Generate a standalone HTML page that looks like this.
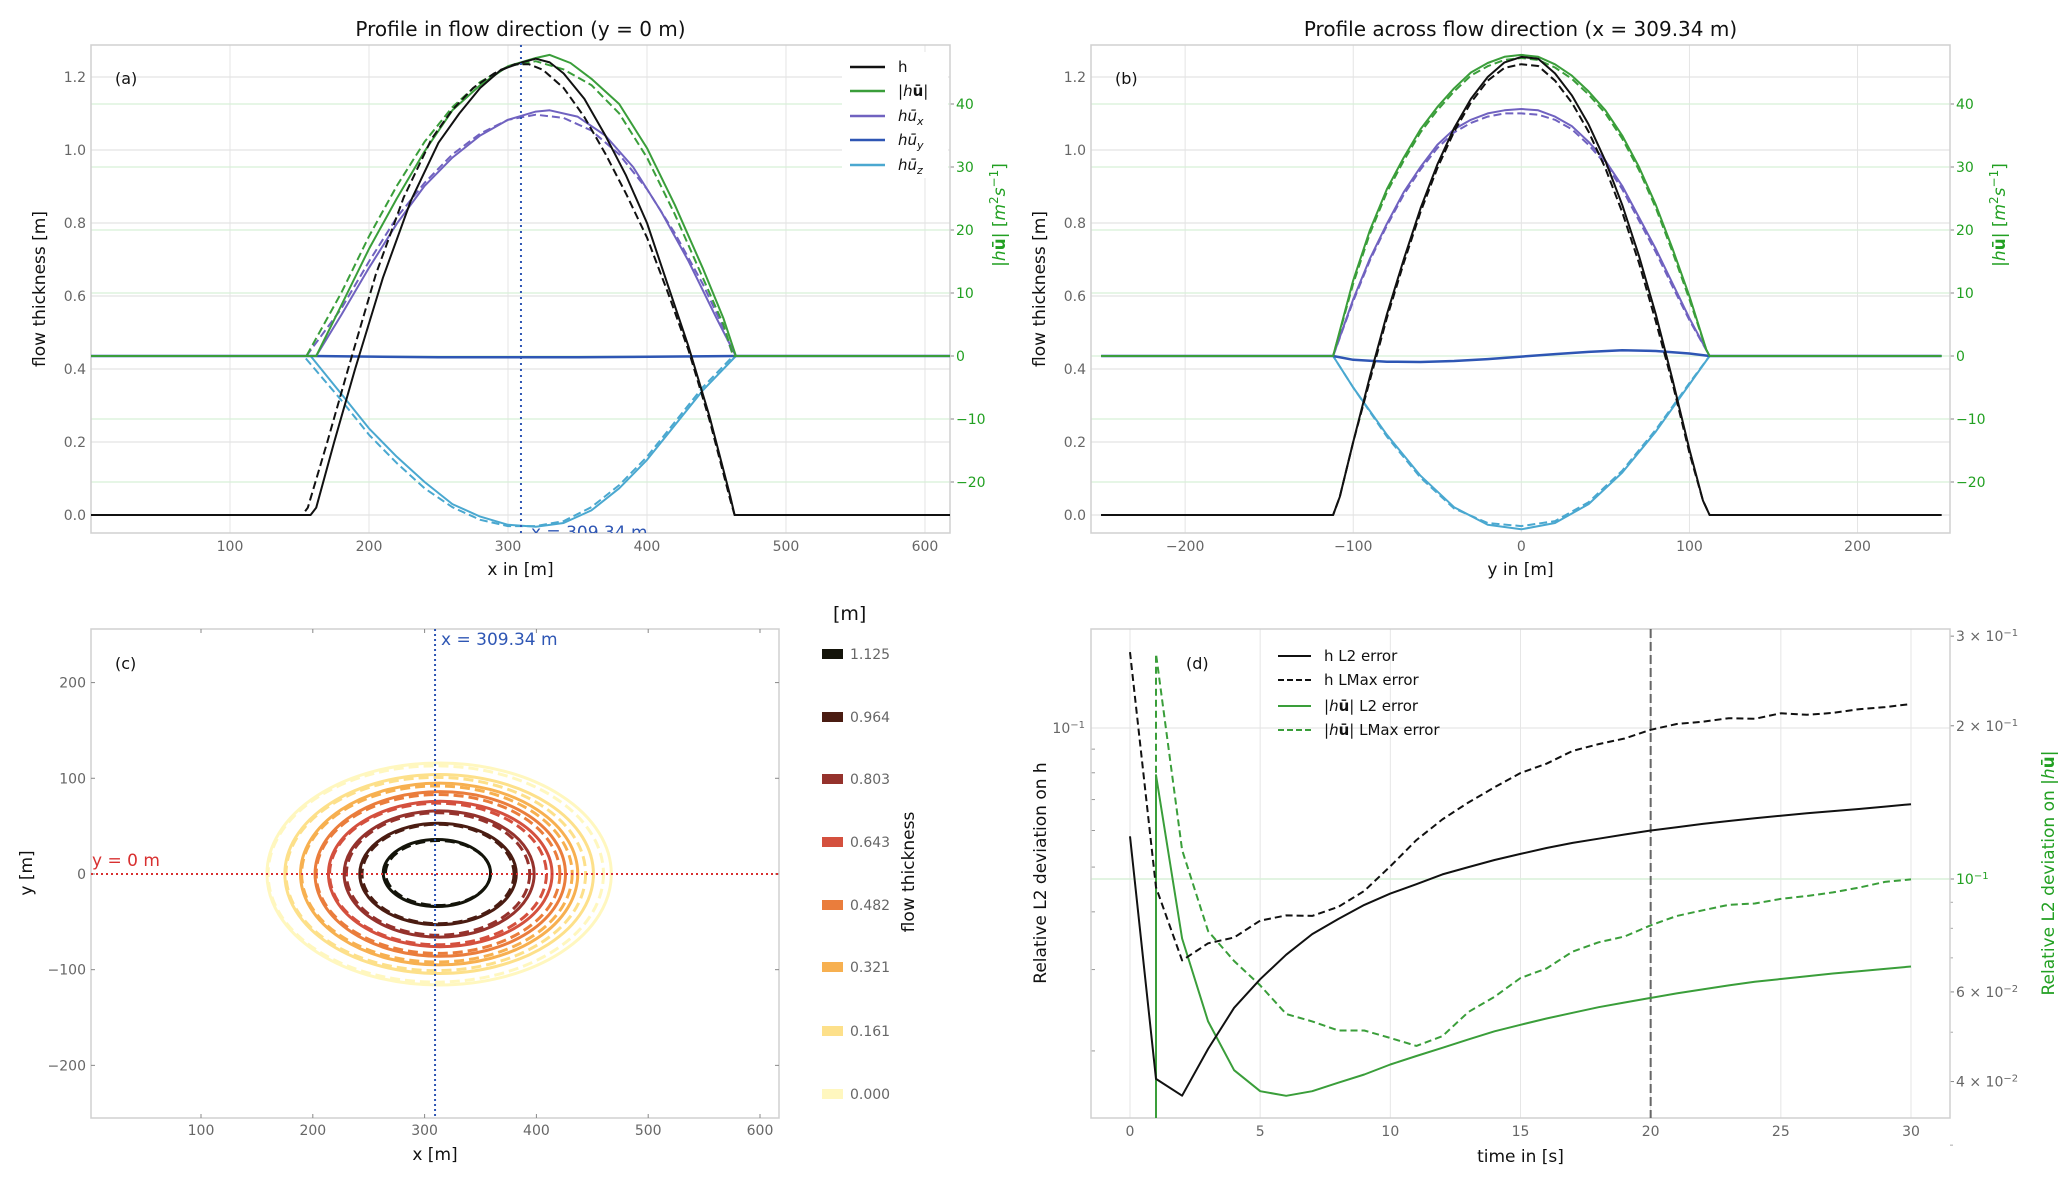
<!DOCTYPE html>
<html><head><meta charset="utf-8"><style>
html,body{margin:0;padding:0;background:#fff;}
svg{display:block;}
.tk{font-family:"DejaVu Sans","Liberation Sans",sans-serif;font-size:14px;fill:#666;}
.tkg{font-family:"DejaVu Sans","Liberation Sans",sans-serif;font-size:14px;fill:#22a022;}
.lab{font-family:"DejaVu Sans","Liberation Sans",sans-serif;font-size:17px;fill:#111;}
.ttl{font-family:"DejaVu Sans","Liberation Sans",sans-serif;font-size:20px;fill:#111;}
</style></head><body>
<svg id="chart" width="2067" height="1180" viewBox="0 0 2067 1180"></svg>
<script>
// ---------- Panel (a) data: profile in flow direction ----------
const aHx=[0,158,162,175,190,210,230,250,265,280,295,310,320,330,340,355,370,385,400,415,430,445,460,463,618];
const aH=[0,0,0.02,0.2,0.4,0.65,0.86,1.02,1.1,1.17,1.22,1.24,1.25,1.24,1.21,1.14,1.04,0.93,0.8,0.63,0.46,0.27,0.05,0,0];
const aHdx=[0,152,156,170,185,205,225,245,260,275,290,305,315,325,340,355,370,385,400,415,430,445,460,463,618];
const aHd=[0,0,0.02,0.2,0.4,0.66,0.87,1.03,1.11,1.17,1.21,1.235,1.235,1.22,1.17,1.09,0.99,0.88,0.76,0.61,0.45,0.26,0.04,0,0];
const aUx=[0,162,180,200,220,240,260,280,300,320,330,345,360,380,400,420,440,455,464,618];
const aU=[0,0,8,17,25,32.5,39,43,46,47.3,47.8,46.5,44,40,33,24,14,6,0,0];
const aUdx=[0,155,180,200,220,240,260,280,300,320,340,360,380,400,420,440,455,462,618];
const aUd=[0,0,10,19,27,34,39.5,43.5,46,46.8,45.5,43,38.5,31.5,22.5,12.5,5,0,0];
const aXx=[162,180,200,220,240,260,280,300,320,330,350,370,390,410,430,450,464];
const aX=[0,6.5,14,21,27,31.5,35,37.5,38.8,39,38,35,30,23,15,6,0];
const aXdx=[155,180,200,220,240,260,280,300,320,340,360,380,400,420,440,455,462];
const aXd=[0,7.5,15,22,27.5,32,35.3,37.5,38.3,37.8,35.8,32,26.5,19.5,11.5,4.5,0];
const aYx=[0,160,250,350,464,618];
const aY=[0,0,-0.2,-0.2,0,0];
const aZx=[0,158,180,200,220,240,260,280,300,320,340,360,380,400,420,440,464,618];
const aZ=[0,0,-6,-11.5,-16,-20,-23.5,-25.5,-26.8,-27.1,-26.5,-24.5,-21,-16.5,-11,-5.5,0,0];
const aZdx=[0,153,180,200,220,240,260,280,300,320,340,360,380,400,420,440,462,618];
const aZd=[0,0,-7,-12.5,-17,-21,-24,-26,-27,-27,-26.2,-24,-20.5,-16,-10.5,-5,0,0];
// ---------- Panel (b) data: profile across flow direction ----------
const bHx=[-250,-112,-108,-100,-90,-80,-70,-60,-50,-40,-30,-20,-10,0,10,20,30,40,50,60,70,80,90,100,108,112,250];
const bH=[0,0,0.05,0.2,0.38,0.55,0.7,0.84,0.96,1.06,1.14,1.2,1.24,1.255,1.25,1.21,1.15,1.07,0.97,0.85,0.71,0.55,0.37,0.18,0.04,0,0];
const bHd=[0,0,0.05,0.2,0.37,0.54,0.69,0.83,0.95,1.05,1.13,1.19,1.225,1.235,1.23,1.19,1.13,1.05,0.95,0.83,0.69,0.53,0.36,0.17,0.04,0,0];
const bUx=[-250,-112,-100,-90,-80,-70,-60,-50,-40,-30,-20,-10,0,10,20,30,40,50,60,70,80,90,100,110,112,250];
const bU=[0,0,12,20,26.5,31.5,36,39.5,42.5,45,46.5,47.5,47.8,47.5,46.3,44.5,42,39,35,30,24,17,9.5,1,0,0];
const bUd=[0,0,11.5,19.5,26,31,35.5,39,42,44.5,46,47,47.3,47,45.8,44,41.5,38.5,34.5,29.5,23.5,16.5,9,1,0,0];
const bXx=[-112,-100,-90,-80,-70,-60,-50,-40,-30,-20,-10,0,10,20,30,40,50,60,70,80,90,100,112];
const bX=[0,9,15.5,21,26,30,33.5,36,37.5,38.5,39,39.2,39,38,36.5,34,31,27,22,17,11.5,6,0];
const bXd=[0,8.7,15.2,20.7,25.6,29.6,33,35.5,37,38,38.5,38.5,38.3,37.5,36,33.5,30.5,26.5,21.5,16.5,11,5.7,0];
const bYx=[-250,-112,-100,-80,-60,-40,-20,0,20,40,60,80,100,112,250];
const bY=[0,0,-0.6,-0.9,-0.95,-0.8,-0.5,-0.1,0.3,0.65,0.9,0.8,0.4,0,0];
const bZx=[-250,-112,-100,-80,-60,-40,-20,0,20,40,60,80,100,112,250];
const bZ=[0,0,-5,-12.5,-19,-24,-26.8,-27.5,-26.5,-23.5,-18.5,-12,-4.5,0,0];
const bZd=[0,0,-5,-12.8,-19.3,-24.2,-26.5,-27,-26.2,-23.2,-18.2,-11.7,-4.3,0,0];
// ---------- Panel (c) data: contour levels ----------
const cLevels=[0.000,0.161,0.321,0.482,0.643,0.803,0.964,1.125];
const cLabels=['0.000','0.161','0.321','0.482','0.643','0.803','0.964','1.125'];
const cColors=['#fff7bf','#fde08a','#f7b050','#ea7d3c','#d4503e','#95322c','#4a1c12','#14140a'];
const cRx=[154,138,124,112,100,85,70,48];
const cRy=[116,104,95,86,76,66,53,35];
const cCx=[313,313,313,314,314,313,312,311];
const cCy=[0,0,0,0,0,0,0,1];
const cRxD=[150,134,121,109,97,82,68,47];
const cRyD=[113,101,92,83,74,64,52,34];
const cCxD=[310,310,311,312,312,312,312,312];
// ---------- Panel (d) data: error over time ----------
const dT=[0,1,2,3,4,5,6,7,8,9,10,11,12,13,14,15,16,17,18,19,20,21,22,23,24,25,26,27,28,29,30];
const dHL2=[0.0583,0.0174,0.0160,0.0202,0.0248,0.0286,0.0323,0.0358,0.0386,0.0414,0.0438,0.0459,0.0482,0.050,0.0518,0.0534,0.055,0.0564,0.0576,0.0588,0.060,0.061,0.062,0.0629,0.0638,0.0646,0.0654,0.0661,0.0668,0.0676,0.0684];
const dHLM=[0.146,0.0452,0.0314,0.0342,0.0352,0.0383,0.0393,0.0392,0.041,0.0444,0.0502,0.0572,0.0634,0.069,0.0744,0.0799,0.0837,0.0892,0.0923,0.0949,0.0991,0.102,0.1032,0.105,0.1047,0.1076,0.1068,0.1078,0.1098,0.111,0.1127];
const dTg=[1,1,2,3,4,5,6,7,8,9,10,11,12,13,14,15,16,17,18,19,20,21,22,23,24,25,26,27,28,29,30];
const dUL2=[0.02,0.160,0.0764,0.0525,0.0421,0.0383,0.0375,0.0383,0.0398,0.0413,0.0432,0.0449,0.0466,0.0484,0.0502,0.0517,0.0532,0.0546,0.056,0.0572,0.0584,0.0596,0.0607,0.0618,0.0628,0.0636,0.0644,0.0652,0.0659,0.0666,0.0673];
const dULM=[0.02,0.277,0.114,0.079,0.069,0.0618,0.0543,0.0525,0.0504,0.0504,0.0487,0.047,0.0491,0.0548,0.0587,0.0639,0.0667,0.072,0.0751,0.0771,0.0811,0.0846,0.0868,0.089,0.0895,0.0914,0.0926,0.0941,0.0962,0.0987,0.0998];

const NS='http://www.w3.org/2000/svg';
const svg=document.getElementById('chart');
function mk(tag,attrs,parent){const e=document.createElementNS(NS,tag);for(const k in attrs)e.setAttribute(k,attrs[k]);(parent||svg).appendChild(e);return e;}
function lin(d0,d1,r0,r1){return v=>r0+(v-d0)/(d1-d0)*(r1-r0);}
function lg(refV,refPx,perDec){return v=>refPx-(Math.log10(v)-Math.log10(refV))*perDec;}
function txt(x,y,s,cls,anchor,parent){const t=mk('text',{x:x,y:y,class:cls,'text-anchor':anchor||'middle'},parent);t.textContent=s;return t;}
function pathD(xs,ys,sx,sy){return xs.map((v,i)=>(i?'L':'M')+sx(v).toFixed(1)+','+sy(ys[i]).toFixed(1)).join('');}
function clip(id,x,y,w,h){const d=mk('defs',{});const c=mk('clipPath',{id:id},d);mk('rect',{x:x,y:y,width:w,height:h},c);}

const COL={h:'#111',u:'#3a9e3a',x:'#7062c0',y:'#2e56b4',z:'#4aa8d0'};

function profilePanel(o){
  const g=mk('g',{});
  
  
  const L=o.L,R=o.R,T=45,B=533;
  const sx=lin(o.xd[0],o.xd[1],L,R);
  const sy=lin(0,1.2,515,77);
  const sr=lin(0,40,356,104);
  clip(o.name+'-clip',L,T,R-L,B-T);
  // grids
  o.xt.forEach(v=>{const l=mk('line',{x1:sx(v),x2:sx(v),y1:T,y2:B,stroke:'#e4e4e4','stroke-width':1},g);
    const t=txt(sx(v),551,String(v).replace('-','\u2212'),'tk','middle',g);});
  [0,0.2,0.4,0.6,0.8,1.0,1.2].forEach(v=>{const l=mk('line',{x1:L,x2:R,y1:sy(v),y2:sy(v),stroke:'#e4e4e4','stroke-width':1.2},g);
    const t=txt(L-5,sy(v)+5,v.toFixed(1),'tk','end',g);});
  [-20,-10,0,10,20,30,40].forEach(v=>{const l=mk('line',{x1:L,x2:R,y1:sr(v),y2:sr(v),stroke:'#d8f0d8','stroke-width':1.2},g);
    const m=mk('line',{x1:R,x2:R+4,y1:sr(v),y2:sr(v),stroke:'#888'},g);
    const t=txt(R+6,sr(v)+5,String(v).replace('-','\u2212'),'tkg','start',g);});
  const fr=mk('rect',{x:L,y:T,width:R-L,height:B-T,fill:'none',stroke:'#d0d0d0','stroke-width':1.5},g);
  
  const cg=mk('g',{'clip-path':'url(#'+o.name+'-clip)'},g);
  
  const S=o.series;
  function line(xs,ys,scale,color,dash,name,w){const p=mk('path',{d:pathD(xs,ys,sx,scale),fill:'none',stroke:color,'stroke-width':w||2,'stroke-dasharray':dash?'8,4':'none','stroke-linejoin':'round'},cg);}
  line(S.zx,S.zd,sr,COL.z,true,'huz-reference');
  line(S.zx2,S.z,sr,COL.z,false,'huz-line');
  line(S.yx,S.y,sr,COL.y,false,'huy-line',2.5);
  line(S.xdx,S.xd,sr,COL.x,true,'hux-reference');
  line(S.xx,S.x,sr,COL.x,false,'hux-line');
  line(S.udx,S.ud,sr,COL.u,true,'hu-magnitude-reference');
  line(S.ux,S.u,sr,COL.u,false,'hu-magnitude-line');
  line(S.hdx,S.hd,sy,COL.h,true,'h-reference');
  line(S.hx,S.h,sy,COL.h,false,'h-line');
  if(o.vline){const v=mk('line',{x1:sx(309.34),x2:sx(309.34),y1:T,y2:B,stroke:'#2e56b4','stroke-width':2,'stroke-dasharray':'2,4'},cg);
    const t=txt(sx(309.34)+10,538,'x = 309.34 m','tk','start',cg);t.setAttribute('style','fill:#2e56b4;font-size:17px');}
  const pl=txt(L+24,84,o.tag,'lab','start',g);pl.setAttribute('style','font-size:16px');
  const ti=txt((L+R)/2,36,o.title,'ttl','middle',g);
  const xl=txt((L+R)/2,575,o.xlabel,'lab','middle',g);
  const yl=txt(0,0,'flow thickness [m]','lab','middle',g);yl.setAttribute('transform','translate('+(L-46)+',289) rotate(-90)');
  const ry=mk('text',{class:'lab','text-anchor':'middle',transform:'translate('+(R+55)+',215) rotate(-90)',style:'fill:#22a022'},g);
  ry.innerHTML='|<tspan font-style="italic">h</tspan><tspan font-weight="bold">ū</tspan>| [<tspan font-style="italic">m</tspan><tspan baseline-shift="super" font-size="12">2</tspan><tspan font-style="italic">s</tspan><tspan baseline-shift="super" font-size="12">−1</tspan>]';
  
  return g;
}
profilePanel({name:'panel-a',L:91,R:950,xd:[0,618],xt:[100,200,300,400,500,600],tag:'(a)',title:'Profile in flow direction (y = 0 m)',xlabel:'x in [m]',vline:true,
  series:{hx:aHx,h:aH,hdx:aHdx,hd:aHd,ux:aUx,u:aU,udx:aUdx,ud:aUd,xx:aXx,x:aX,xdx:aXdx,xd:aXd,yx:aYx,y:aY,zx2:aZx,z:aZ,zx:aZdx,zd:aZd}});
profilePanel({name:'panel-b',L:1091,R:1950,xd:[-256,255],xt:[-200,-100,0,100,200],tag:'(b)',title:'Profile across flow direction (x = 309.34 m)',xlabel:'y in [m]',vline:false,
  series:{hx:bHx,h:bH,hdx:bHx,hd:bHd,ux:bUx,u:bU,udx:bUx,ud:bUd,xx:bXx,x:bX,xdx:bXx,xd:bXd,yx:bYx,y:bY,zx2:bZx,z:bZ,zx:bZx,zd:bZd}});

// legend panel a
(function(){
  const g=mk('g',{});
  mk('rect',{x:842,y:52,width:106,height:126,fill:'#fff'},g);
  const items=[['h',COL.h,'h'],['|hū|',COL.u,'u'],['hūx',COL.x,'x'],['hūy',COL.y,'y'],['hūz',COL.z,'z']];
  const ys=[67,91,116,140,165];
  items.forEach((it,i)=>{
    const l=mk('line',{x1:850,x2:885,y1:ys[i],y2:ys[i],stroke:it[1],'stroke-width':2.5},g);
    
    const t=mk('text',{x:898,y:ys[i]+5,class:'lab',style:'font-size:15px'},g);
    if(it[2]==='h')t.textContent='h';
    else if(it[2]==='u')t.innerHTML='|<tspan font-style="italic">h</tspan><tspan font-weight="bold">ū</tspan>|';
    else t.innerHTML='<tspan font-style="italic">hū</tspan><tspan font-style="italic" font-size="11" dy="4">'+it[2]+'</tspan>';
    
  });
})();

// ---------- Panel (c) ----------
(function(){
  const L=91,R=779,T=629,B=1118;
  const sx=lin(1.6,617,L,R), sy=lin(-255,256,B,T);
  const g=mk('g',{});
  clip('c-clip',L,T,R-L,B-T);
  const fr=mk('rect',{x:L,y:T,width:R-L,height:B-T,fill:'none',stroke:'#d0d0d0','stroke-width':1.5},g);
  
  [100,200,300,400,500,600].forEach(v=>{
    mk('line',{x1:sx(v),x2:sx(v),y1:B,y2:B-4,stroke:'#888'},g);mk('line',{x1:sx(v),x2:sx(v),y1:T,y2:T+4,stroke:'#888'},g);
    const t=txt(sx(v),1135,String(v),'tk','middle',g);});
  [-200,-100,0,100,200].forEach(v=>{
    mk('line',{x1:L,x2:L+4,y1:sy(v),y2:sy(v),stroke:'#888'},g);mk('line',{x1:R,x2:R-4,y1:sy(v),y2:sy(v),stroke:'#888'},g);
    const t=txt(L-5,sy(v)+5,String(v).replace('-','\u2212'),'tk','end',g);});
  const cg=mk('g',{'clip-path':'url(#c-clip)'},g);
  cLevels.forEach((lv,i)=>{
    const e1=mk('ellipse',{cx:sx(cCxD[i]),cy:sy(cCy[i]),rx:sx(cCxD[i]+cRxD[i])-sx(cCxD[i]),ry:sy(0)-sy(cRyD[i]),fill:'none',stroke:cColors[i],'stroke-width':3,'stroke-dasharray':'10,5'},cg);
    
    const e2=mk('ellipse',{cx:sx(cCx[i]),cy:sy(cCy[i]),rx:sx(cCx[i]+cRx[i])-sx(cCx[i]),ry:sy(0)-sy(cRy[i]),fill:'none',stroke:cColors[i],'stroke-width':3},cg);
    
  });
  const h=mk('line',{x1:L,x2:R,y1:sy(0),y2:sy(0),stroke:'#d83030','stroke-width':2,'stroke-dasharray':'2,3'},cg);
  
  const v=mk('line',{x1:sx(309.34),x2:sx(309.34),y1:T,y2:B,stroke:'#2e56b4','stroke-width':2,'stroke-dasharray':'2,3'},cg);
  
  const t1=txt(sx(309.34)+6,645,'x = 309.34 m','lab','start',g);t1.setAttribute('style','fill:#2e56b4;font-size:17px');
  const t2=txt(L+1,sy(0)-8,'y = 0 m','lab','start',g);t2.setAttribute('style','fill:#d83030;font-size:17px');
  const pl=txt(L+24,669,'(c)','lab','start',g);pl.setAttribute('style','font-size:16px');
  const xl=txt((L+R)/2,1160,'x [m]','lab','middle',g);
  const yl=txt(0,0,'y [m]','lab','middle',g);yl.setAttribute('transform','translate(32,873) rotate(-90)');
  // colorbar legend
  const ys=[1094,1031,967,905,842,779,717,654];
  cLevels.forEach((lv,i)=>{
    const r=mk('rect',{x:822,y:ys[i]-5,width:21,height:10,fill:cColors[i]},g);
    
    const t=txt(850,ys[i]+5,cLabels[i],'tk','start',g);
  });
  const u=txt(833,620,'[m]','lab','start',g);u.setAttribute('style','font-size:19px');
  const ct=txt(0,0,'flow thickness','lab','middle',g);ct.setAttribute('transform','translate(914,872) rotate(-90)');
})();

// ---------- Panel (d) ----------
(function(){
  const L=1091,R=1950,T=629,B=1118;
  const sx=lin(0,30,1130,1911), syL=lg(0.1,728,462), syR=lg(0.1,879,509);
  const g=mk('g',{});
  clip('d-clip',L,T,R-L,B-T);
  [0,5,10,15,20,25,30].forEach(v=>{
    const l=mk('line',{x1:sx(v),x2:sx(v),y1:T,y2:B,stroke:'#e6e6e6'},g);
    const t=txt(sx(v),1136,String(v),'tk','middle',g);});
  const gl=mk('line',{x1:L,x2:R,y1:syL(0.1),y2:syL(0.1),stroke:'#e6e6e6','stroke-width':1.2},g);
  const gr=mk('line',{x1:L,x2:R,y1:syR(0.1),y2:syR(0.1),stroke:'#d8f0d8','stroke-width':1.5},g);
  [0.02,0.03,0.04,0.05,0.06,0.07,0.08,0.09].forEach(v=>{const m=mk('line',{x1:L,x2:L+4,y1:syL(v),y2:syL(v),stroke:'#999'},g);});
  const lt=mk('text',{x:L-6,y:syL(0.1)+5,class:'tk','text-anchor':'end'},g);lt.innerHTML='10<tspan baseline-shift="super" font-size="10">−1</tspan>';
  [[0.3,'3 × 10','−1'],[0.2,'2 × 10','−1'],[0.1,'10','−1'],[0.06,'6 × 10','−2'],[0.04,'4 × 10','−2']].forEach(a=>{
    const m=mk('line',{x1:R,x2:R+4,y1:syR(a[0]),y2:syR(a[0]),stroke:'#888'},g);
    const t=mk('text',{x:R+6,y:syR(a[0])+5,class:a[0]===0.1?'tkg':'tk'},g);t.innerHTML=a[1]+'<tspan baseline-shift="super" font-size="10">'+a[2]+'</tspan>';
    });
  [0.03,0.05,0.07,0.08,0.09].forEach(v=>{const m=mk('line',{x1:R,x2:R+3,y1:syR(v),y2:syR(v),stroke:'#aaa'},g);});
  const fr=mk('rect',{x:L,y:T,width:R-L,height:B-T,fill:'none',stroke:'#d0d0d0','stroke-width':1.5},g);
  const cg=mk('g',{'clip-path':'url(#d-clip)'},g);
  const vl=mk('line',{x1:sx(20),x2:sx(20),y1:T,y2:B,stroke:'#666','stroke-width':2,'stroke-dasharray':'9,4'},cg);
  function line(ts,vs,sy,color,dash,name){const p=mk('path',{d:pathD(ts,vs,sx,sy),fill:'none',stroke:color,'stroke-width':2,'stroke-dasharray':dash?'7,4':'none','stroke-linejoin':'round'},cg);}
  line(dTg,dUL2,syR,COL.u,false,'hu-l2-error-line');
  line(dTg,dULM,syR,COL.u,true,'hu-lmax-error-line');
  line(dT,dHL2,syL,'#111',false,'h-l2-error-line');
  line(dT,dHLM,syL,'#111',true,'h-lmax-error-line');
  const pl=txt(1186,669,'(d)','lab','start',g);pl.setAttribute('style','font-size:16px');
  const items=[['h L2 error','#111',false],['h LMax error','#111',true],['|hū| L2 error',COL.u,false],['|hū| LMax error',COL.u,true]];
  const ys=[656,680,706,730];
  items.forEach((it,i)=>{
    const l=mk('line',{x1:1278,x2:1311,y1:ys[i],y2:ys[i],stroke:it[1],'stroke-width':2,'stroke-dasharray':it[2]?'6,3':'none'},g);
    const t=mk('text',{x:1324,y:ys[i]+5,class:'lab',style:'font-size:15px'},g);
    if(i<2)t.textContent=it[0];else t.innerHTML='|<tspan font-style="italic">h</tspan><tspan font-weight="bold">ū</tspan>| '+(i===2?'L2 error':'LMax error');
    });
  const xl=txt((L+R)/2,1162,'time in [s]','lab','middle',g);
  const yl=txt(0,0,'Relative L2 deviation on h','lab','middle',g);yl.setAttribute('transform','translate(1046,873) rotate(-90)');
  const ry=mk('text',{class:'lab','text-anchor':'middle',transform:'translate(2054,873) rotate(-90)',style:'fill:#22a022'},g);
  ry.innerHTML='Relative L2 deviation on |<tspan font-style="italic">h</tspan><tspan font-weight="bold">ū</tspan>|';
  
})();
</script>
</body></html>
